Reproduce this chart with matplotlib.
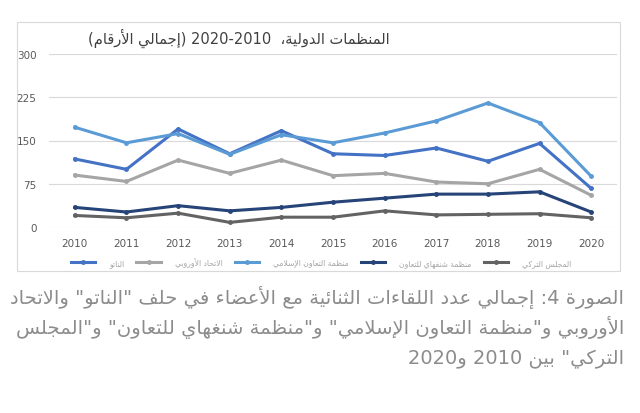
import re
import matplotlib
matplotlib.use("Agg")
import matplotlib.pyplot as plt
from matplotlib.lines import Line2D
from matplotlib.patches import Rectangle

# data
years = [2010, 2011, 2012, 2013, 2014, 2015, 2016, 2017, 2018, 2019, 2020]
nato = [118, 100, 170, 127, 167, 127, 124, 137, 114, 145, 67]
eu = [90, 79, 116, 93, 116, 89, 93, 78, 75, 100, 55]
oic = [173, 146, 162, 126, 160, 146, 163, 184, 215, 181, 88]
sco = [34, 26, 37, 28, 34, 43, 50, 57, 57, 61, 26]
turkic = [20, 16, 24, 8, 17, 17, 28, 21, 22, 23, 16]

series_names = ["الناتو", "الاتحاد الأوروبي", "منظمة التعاون الإسلامي",
                "منظمة شنغهاي للتعاون", "المجلس التركي"]
colors = ["#4472c4", "#a5a5a5", "#5b9bd5", "#264478", "#636363"]
yticks = [0, 75, 150, 225, 300]

title = "المنظمات الدولية،  2010-2020 (إجمالي الأرقام)"
caption = ['الصورة 4: إجمالي عدد اللقاءات الثنائية مع الأعضاء في حلف "الناتو" والاتحاد',
           'الأوروبي و"منظمة التعاون الإسلامي" و"منظمة شنغهاي للتعاون" و"المجلس',
           'التركي" بين 2010 و2020']

# --- minimal arabic shaping + right-to-left ordering (no external libs) ---
DUAL = {'ئ': 0xFE89, 'ب': 0xFE8F, 'ت': 0xFE95, 'ث': 0xFE99, 'ج': 0xFE9D, 'ح': 0xFEA1,
        'خ': 0xFEA5, 'س': 0xFEB1, 'ش': 0xFEB5, 'ص': 0xFEB9, 'ض': 0xFEBD, 'ط': 0xFEC1,
        'ظ': 0xFEC5, 'ع': 0xFEC9, 'غ': 0xFECD, 'ف': 0xFED1, 'ق': 0xFED5, 'ك': 0xFED9,
        'ل': 0xFEDD, 'م': 0xFEE1, 'ن': 0xFEE5, 'ه': 0xFEE9, 'ي': 0xFEF1}
RIGHT = {'آ': 0xFE81, 'أ': 0xFE83, 'ؤ': 0xFE85, 'إ': 0xFE87, 'ا': 0xFE8D, 'ة': 0xFE93,
         'د': 0xFEA9, 'ذ': 0xFEAB, 'ر': 0xFEAD, 'ز': 0xFEAF, 'و': 0xFEED, 'ى': 0xFEEF}
LAM_ALEF = {'آ': 0xFEF5, 'أ': 0xFEF7, 'إ': 0xFEF9, 'ا': 0xFEFB}


def shape(s):
    items = []
    i = 0
    while i < len(s):
        if s[i] == 'ل' and i + 1 < len(s) and s[i + 1] in LAM_ALEF:
            items.append(('LA', s[i + 1]))
            i += 2
        else:
            items.append(('C', s[i]))
            i += 1

    def kind(it):
        if it[0] == 'LA' or it[1] in RIGHT:
            return 'R'
        if it[1] in DUAL:
            return 'D'
        return None

    out = []
    for j, it in enumerate(items):
        k = kind(it)
        prev = kind(items[j - 1]) if j > 0 else None
        nxt = kind(items[j + 1]) if j + 1 < len(items) else None
        jp = k is not None and prev == 'D'
        jn = k == 'D' and nxt is not None
        if it[0] == 'LA':
            out.append(chr(LAM_ALEF[it[1]] + jp))
        elif k == 'D':
            out.append(chr(DUAL[it[1]] + (3 if jp and jn else 2 if jn else 1 if jp else 0)))
        elif k == 'R':
            out.append(chr(RIGHT[it[1]] + jp))
        else:
            out.append(it[1])
    return ''.join(out)


MIRROR = str.maketrans('()', ')(')


def ar(s):
    runs = re.findall(r'[0-9A-Za-z]+|[^0-9A-Za-z]+', shape(s))
    out = []
    for r in reversed(runs):
        if r[0].isascii() and r[0].isalnum():
            out.append(r)
        else:
            out.append(r[::-1].translate(MIRROR))
    return ''.join(out)


plt.rcParams['font.family'] = ['DejaVu Sans']

fig = plt.figure(figsize=(6.4, 4.14), dpi=100)

# chart frame
fig.patches.append(Rectangle((17 / 640, 1 - 272 / 414), 603 / 640, 249 / 414,
                             transform=fig.transFigure, fill=False,
                             edgecolor="#d9d9d9", linewidth=0.8))

ax = fig.add_axes([49 / 640, 1 - 228 / 414, 568 / 640, 173 / 414])
x = list(range(len(years)))
for vals, c, name in zip([nato, eu, oic, sco, turkic], colors, series_names):
    ax.plot(x, vals, color=c, linewidth=2.2, marker='o', markersize=2.5, label=ar(name))

ax.set_xlim(-0.5, len(years) - 0.5)
ax.set_ylim(0, 300)
ax.set_xticks(x)
ax.set_xticklabels([str(y) for y in years])
ax.set_yticks(yticks)
ax.tick_params(length=0, labelsize=7.5, labelcolor="#595959")
ax.tick_params(axis='y', pad=9)
ax.tick_params(axis='x', pad=8)
ax.grid(axis='y', color="#d9d9d9", linewidth=0.8)
ax.set_axisbelow(True)
for sp in ax.spines.values():
    sp.set_visible(False)

handles = [Line2D([], [], color=c, linewidth=2.2, marker='o', markersize=2.5) for c in colors]
fig.legend(handles, [ar(n) for n in series_names], loc='center',
           bbox_to_anchor=(321 / 640, 1 - 263 / 414), ncol=5, frameon=False,
           prop={'size': 5.5}, labelcolor="#a6a6a6",
           handlelength=3.2, handletextpad=1.8, columnspacing=1.6)

fig.text(239 / 640, 1 - 38 / 414, ar(title), ha='center', va='center',
         fontsize=10.5, color="#404040")

for i, line in enumerate(caption):
    fig.text(624 / 640, 1 - (297 + 31 * i) / 414, ar(line), ha='right', va='center',
             fontsize=14, color="#8c8c8c")

fig.savefig("out.png", dpi=100)
